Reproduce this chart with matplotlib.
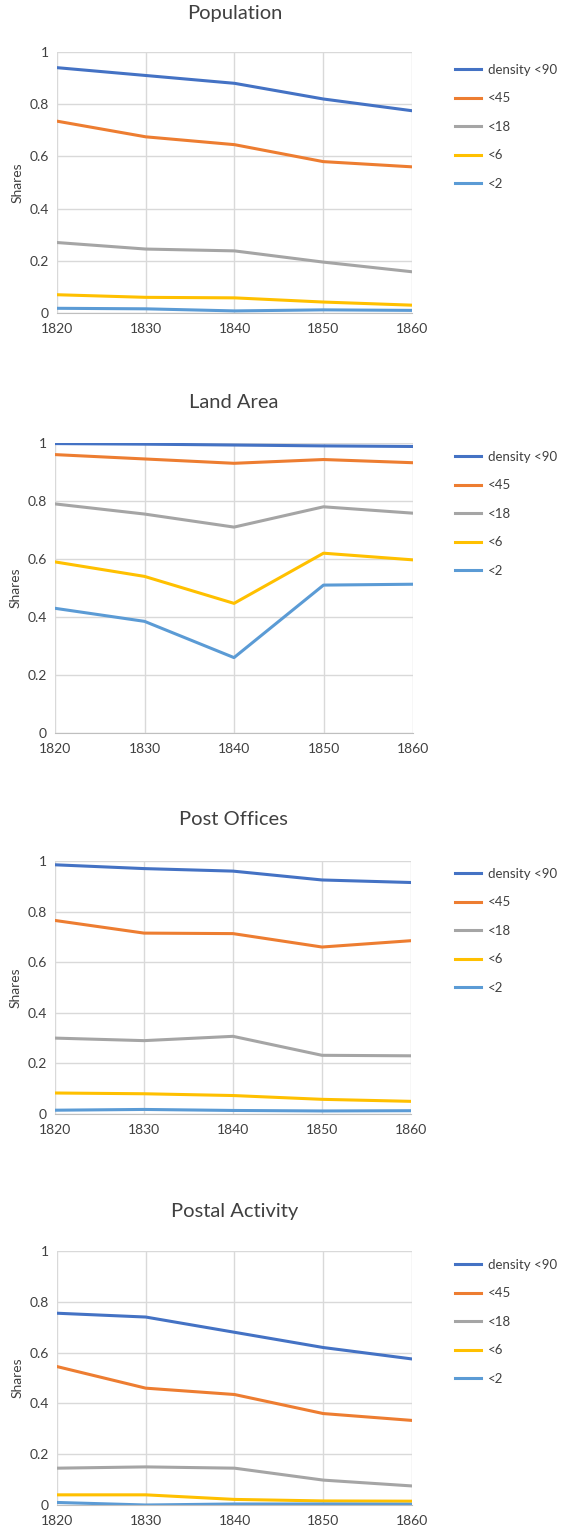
import matplotlib
matplotlib.use("Agg")
import matplotlib.pyplot as plt
from matplotlib.lines import Line2D

plt.rcParams['font.family'] = ['Lato', 'DejaVu Sans']

years = [1820, 1830, 1840, 1850, 1860]
series_names = ["density <90", "<45", "<18", "<6", "<2"]
colors = ["#4472C4", "#ED7D31", "#A5A5A5", "#FFC000", "#5B9BD5"]

titles = ["Population", "Land Area", "Post Offices", "Postal Activity"]

pop = [[.94, .91, .88, .82, .775],
       [.735, .675, .645, .58, .56],
       [.27, .245, .238, .195, .158],
       [.07, .06, .058, .042, .03],
       [.018, .016, .008, .012, .01]]
land = [[.998, .996, .993, .99, .988],
        [.96, .945, .93, .943, .932],
        [.79, .755, .71, .78, .758],
        [.59, .54, .447, .62, .597],
        [.43, .385, .26, .51, .513]]
post_offices = [[.985, .97, .96, .925, .915],
                [.765, .715, .713, .66, .685],
                [.3, .29, .307, .232, .23],
                [.083, .08, .073, .058, .05],
                [.015, .018, .014, .012, .013]]
postal_activity = [[.755, .74, .68, .62, .575],
                   [.545, .46, .435, .36, .333],
                   [.145, .15, .145, .098, .075],
                   [.04, .04, .022, .016, .015],
                   [.01, .0, .004, .004, .003]]
datasets = [pop, land, post_offices, postal_activity]

W, H = 565, 1534
fig = plt.figure(figsize=(W/100, H/100), dpi=100)

# (left, right, top(y=1), bottom(y=0), title_y, legend_x, legend_top)
layout = [(57, 412, 52, 313, 14, 450, 62),
          (55, 413, 443, 733, 402, 450, 449),
          (55, 411, 861, 1114, 820, 450, 866),
          (57, 412, 1251, 1505, 1211, 450, 1257)]

for data, title, (l, r, t, b, ty, lx, lt) in zip(datasets, titles, layout):
    ax = fig.add_axes([l/W, 1-b/H, (r-l)/W, (b-t)/H])
    for vals, c in zip(data, colors):
        ax.plot(years, vals, color=c, lw=2.2)
    ax.set_xlim(1820, 1860)
    ax.set_ylim(0, 1)
    ax.set_xticks(years)
    ax.set_yticks([0, .2, .4, .6, .8, 1])
    ax.set_yticklabels(["0", "0.2", "0.4", "0.6", "0.8", "1"])
    ax.grid(True, color="#D9D9D9", lw=1)
    ax.set_axisbelow(True)
    for s in ["top", "right", "left"]:
        ax.spines[s].set_visible(False)
    ax.spines["bottom"].set_color("#BFBFBF")
    ax.tick_params(length=0, labelsize=10, colors="#404040")
    ax.tick_params(axis="x", pad=7)
    ax.tick_params(axis="y", pad=6)
    ax.set_ylabel("Shares", fontsize=10, color="#404040")
    fig.text((l+r)/2/W, 1-ty/H, title, ha="center", va="center", fontsize=14.5, color="#404040")
    handles = [Line2D([0], [0], color=c, lw=2.2) for c in colors]
    fig.legend(handles, series_names, loc="upper left",
               bbox_to_anchor=(lx/W - 0.012, 1-(lt-10)/H), frameon=False,
               fontsize=9.5, handlelength=2.0, handletextpad=0.5,
               labelspacing=1.25, labelcolor="#404040")

fig.savefig("out.png", dpi=100)
